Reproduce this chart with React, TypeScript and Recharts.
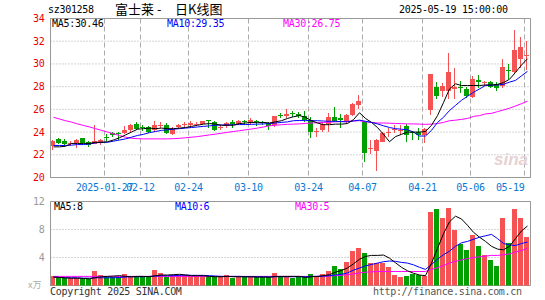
import React from "react";
import { ComposedChart, Bar, Line, XAxis, YAxis, CartesianGrid, ReferenceArea } from "recharts";

const dates = [
  "01-14", "01-15", "01-16", "01-17", "01-20", "01-21", "01-22", "01-23", "01-24", "01-27",
  "02-05", "02-06", "02-07", "02-10", "02-11", "02-12", "02-13", "02-14", "02-17", "02-18",
  "02-19", "02-20", "02-21", "02-24", "02-25", "02-26", "02-27", "02-28",
  "03-03", "03-04", "03-05", "03-06", "03-07", "03-10", "03-11", "03-12", "03-13", "03-14",
  "03-17", "03-18", "03-19", "03-20", "03-21", "03-24", "03-25", "03-26", "03-27", "03-28", "03-31",
  "04-01", "04-02", "04-03", "04-07", "04-08", "04-09", "04-10", "04-11", "04-14", "04-15",
  "04-16", "04-17", "04-18", "04-21", "04-22", "04-23", "04-24", "04-25", "04-28", "04-29", "04-30",
  "05-06", "05-07", "05-08", "05-09", "05-12", "05-13", "05-14", "05-15", "05-16", "05-19",
];

const open = [
  22.8, 23.35, 23.25, 22.95, 23.05, 23.45, 23.1, 22.95, 23.05, 23.6,
  23.9, 23.95, 23.9, 24.15, 24.7, 24.45, 24.45, 24.15, 24.6, 24.65,
  23.8, 24.45, 24.6, 24.6, 24.65, 24.7, 25.05, 24.9, 24.35, 24.5,
  24.85, 24.7, 25.0, 24.8, 25.0, 24.9, 24.8, 24.65, 25.5, 25.45,
  25.65, 25.55, 25.4, 25.1, 24.05, 24.15, 24.75, 25.3, 25.2, 24.9,
  25.5, 26.35, 24.9, 22.55, 22.3, 23.15, 24.0, 24.15, 24.1, 24.5,
  24.0, 24.05, 23.75, 25.9, 27.95, 27.6, 27.65, 27.8, 28.0, 27.8,
  27.1, 28.6, 28.3, 28.4, 28.25, 28.1, 29.5, 29.3, 30.45, 30.7,
];
const close = [
  23.25, 23.05, 22.97, 23.05, 23.3, 23.0, 22.9, 23.2, 23.3, 23.5,
  23.75, 23.9, 24.2, 24.65, 24.3, 24.35, 24.0, 24.6, 24.65, 23.95,
  24.3, 24.6, 24.7, 24.8, 24.7, 24.95, 24.95, 24.15, 24.45, 24.8,
  24.7, 25.0, 24.85, 25.1, 24.85, 24.8, 24.5, 25.4, 25.45, 25.55,
  25.55, 25.45, 25.05, 24.0, 24.1, 24.7, 25.3, 25.0, 25.1, 25.5,
  26.5, 26.7, 22.15, 22.6, 23.3, 23.9, 24.05, 24.25, 24.15, 23.75,
  23.9, 23.7, 24.25, 29.1, 27.2, 28.1, 29.25, 27.95, 27.85, 27.2,
  28.65, 28.45, 28.4, 27.95, 27.9, 29.7, 29.35, 31.2, 31.45, 30.8,
];
const high = [
  23.3, 23.5, 23.4, 23.2, 23.4, 23.5, 23.2, 24.65, 23.4, 23.8,
  24.0, 24.0, 24.5, 24.7, 24.85, 24.6, 24.5, 25.0, 24.9, 24.8,
  24.45, 24.75, 24.85, 24.95, 24.9, 25.0, 25.08, 25.0, 24.6, 24.9,
  25.05, 25.1, 25.1, 25.25, 25.05, 25.0, 24.9, 25.45, 25.7, 26.05,
  25.85, 25.75, 25.85, 25.3, 24.4, 24.8, 25.65, 26.25, 25.6, 25.55,
  26.6, 27.25, 24.95, 23.3, 23.4, 24.0, 24.4, 24.6, 24.6, 24.7,
  24.1, 24.4, 24.35, 29.15, 28.45, 28.3, 30.95, 29.65, 28.5, 28.0,
  28.9, 29.0, 28.5, 28.5, 28.4, 30.45, 30.0, 33.0, 32.35, 32.0,
];
const low = [
  22.4, 22.95, 22.8, 22.8, 22.6, 22.9, 22.7, 22.95, 22.9, 23.2,
  23.6, 23.3, 23.8, 24.0, 24.2, 24.1, 23.9, 24.0, 24.4, 23.8,
  23.7, 24.3, 24.45, 24.4, 24.5, 24.6, 24.35, 24.1, 24.2, 24.4,
  24.35, 24.6, 24.7, 24.7, 24.5, 24.6, 24.15, 24.45, 25.2, 25.2,
  25.35, 25.2, 24.9, 23.45, 23.6, 24.0, 24.0, 24.9, 24.4, 24.8,
  25.4, 26.0, 21.35, 22.1, 20.55, 23.1, 23.55, 23.9, 23.7, 23.1,
  23.3, 23.3, 23.05, 25.5, 26.9, 27.1, 26.9, 26.95, 27.4, 27.0,
  27.0, 27.9, 28.1, 27.85, 27.6, 27.9, 28.7, 29.2, 29.6, 29.5,
];

const ma5 = [
  22.7, 22.7, 22.75, 23.0, 23.0, 23.0, 23.0, 23.1, 23.1, 23.15,
  23.3, 23.5, 23.75, 24.0, 24.25, 24.3, 24.35, 24.3, 24.35, 24.3,
  24.3, 24.35, 24.4, 24.5, 24.6, 24.7, 24.75, 24.7, 24.6, 24.6,
  24.6, 24.75, 24.8, 24.85, 24.85, 24.85, 24.8, 24.9, 25.0, 25.2,
  25.35, 25.45, 25.3, 25.0, 24.8, 24.65, 24.65, 24.7, 24.7, 24.75,
  25.1, 25.7, 25.2, 24.85, 24.4, 23.8, 23.15, 23.6, 23.8, 24.0,
  24.0, 24.0, 24.05, 24.6, 25.45, 26.6, 27.8, 28.25, 28.1, 28.1,
  28.1, 28.1, 28.15, 28.15, 28.2, 28.35, 28.65, 29.25, 29.9, 30.46,
];
const ma10 = [
  22.82, 22.82, 22.82, 22.85, 22.9, 22.9, 22.95, 23.05, 23.1, 23.1,
  23.2, 23.3, 23.4, 23.55, 23.7, 23.8, 23.95, 24.05, 24.15, 24.2,
  24.25, 24.3, 24.35, 24.4, 24.45, 24.5, 24.55, 24.6, 24.62, 24.64,
  24.65, 24.66, 24.66, 24.68, 24.7, 24.72, 24.75, 24.8, 24.85, 24.9,
  25.0, 25.02, 25.03, 25.0, 25.0, 24.97, 24.95, 24.95, 24.92, 24.9,
  24.98, 25.05, 24.95, 24.85, 24.72, 24.55, 24.4, 24.3, 24.25, 24.2,
  24.0, 23.65, 23.65, 24.15, 24.85, 25.3, 25.9, 26.35, 26.8, 27.15,
  27.5, 27.8, 28.1, 28.12, 28.15, 28.2, 28.4, 28.55, 28.95, 29.35,
];
const ma30 = [
  25.3, 25.15, 25.0, 24.88, 24.72, 24.58, 24.45, 24.3, 24.15, 24.0,
  23.85, 23.7, 23.55, 23.45, 23.42, 23.4, 23.4, 23.4, 23.4, 23.4,
  23.42, 23.45, 23.5, 23.55, 23.6, 23.68, 23.75, 23.82, 23.9, 23.98,
  24.05, 24.12, 24.2, 24.27, 24.35, 24.45, 24.55, 24.6, 24.65, 24.68,
  24.7, 24.72, 24.76, 24.8, 24.82, 24.85, 24.87, 24.9, 24.92, 24.95,
  24.98, 25.0, 24.9, 24.85, 24.8, 24.8, 24.78, 24.76, 24.74, 24.72,
  24.72, 24.7, 24.68, 24.7, 24.75, 24.85, 25.0, 25.05, 25.12, 25.2,
  25.38, 25.45, 25.6, 25.65, 25.8, 25.95, 26.1, 26.3, 26.5, 26.72,
];

// volume, in units of 10k
const vol = [
  1.3, 1.0, 1.0, 1.0, 1.0, 0.9, 0.9, 2.05, 1.5, 1.15,
  1.15, 1.15, 1.65, 1.25, 1.15, 1.15, 1.15, 2.2, 1.85, 1.15,
  1.5, 1.5, 1.5, 1.3, 1.3, 1.3, 1.15, 1.15, 1.3, 1.5,
  1.0, 1.3, 1.15, 1.3, 1.15, 1.15, 1.15, 1.85, 1.15, 1.15,
  1.1, 1.15, 1.15, 1.65, 1.3, 1.65, 2.05, 2.8, 2.3, 3.4,
  4.9, 5.4, 4.7, 3.25, 3.25, 3.25, 2.7, 1.5, 1.25, 1.3,
  1.7, 1.5, 1.3, 10.55, 10.9, 9.6, 11.1, 7.9, 5.9, 5.05,
  7.2, 5.65, 4.35, 3.65, 2.8, 9.7, 6.1, 11.0, 9.7, 7.0,
];
const vma5 = [
  1.2, 1.15, 1.1, 1.05, 1.05, 1.0, 0.95, 1.15, 1.25, 1.3,
  1.35, 1.4, 1.3, 1.25, 1.3, 1.3, 1.25, 1.4, 1.5, 1.5,
  1.55, 1.6, 1.5, 1.4, 1.4, 1.4, 1.3, 1.25, 1.25, 1.3,
  1.25, 1.25, 1.25, 1.25, 1.2, 1.2, 1.2, 1.3, 1.3, 1.3,
  1.3, 1.3, 1.15, 1.25, 1.3, 1.4, 1.55, 1.9, 2.15, 2.5,
  3.1, 3.75, 4.15, 4.3, 4.3, 4.35, 3.9, 3.25, 2.6, 2.1,
  1.75, 1.5, 1.4, 3.2, 5.3, 7.4, 9.1, 9.9, 9.5, 8.6,
  7.6, 6.9, 6.3, 5.6, 5.2, 5.1, 5.6, 6.7, 7.8, 8.5,
];
const vma10 = [
  1.2, 1.15, 1.1, 1.1, 1.1, 1.05, 1.05, 1.1, 1.1, 1.1,
  1.1, 1.15, 1.2, 1.25, 1.25, 1.25, 1.3, 1.35, 1.4, 1.4,
  1.4, 1.45, 1.5, 1.45, 1.45, 1.45, 1.4, 1.35, 1.3, 1.3,
  1.3, 1.3, 1.25, 1.25, 1.25, 1.25, 1.2, 1.25, 1.25, 1.25,
  1.25, 1.25, 1.25, 1.3, 1.3, 1.35, 1.4, 1.5, 1.6, 1.8,
  2.2, 2.5, 2.8, 3.0, 3.2, 3.4, 3.5, 3.45, 3.3, 3.2,
  2.95, 2.6, 2.3, 3.0, 3.75, 4.4, 4.9, 5.6, 6.1, 6.3,
  6.6, 6.9, 7.1, 7.3, 6.7, 6.0, 5.8, 5.7, 6.0, 6.2,
];
const vma30 = [
  1.3, 1.3, 1.3, 1.3, 1.3, 1.3, 1.3, 1.3, 1.3, 1.3,
  1.3, 1.3, 1.3, 1.3, 1.3, 1.3, 1.3, 1.3, 1.3, 1.3,
  1.3, 1.3, 1.3, 1.3, 1.3, 1.3, 1.3, 1.3, 1.3, 1.3,
  1.3, 1.3, 1.3, 1.3, 1.3, 1.3, 1.3, 1.3, 1.3, 1.3,
  1.3, 1.3, 1.3, 1.3, 1.3, 1.3, 1.35, 1.4, 1.45, 1.55,
  1.65, 1.8, 1.9, 1.95, 2.0, 2.0, 2.0, 2.0, 2.0, 2.0,
  2.0, 2.0, 2.0, 2.3, 2.55, 2.85, 3.2, 3.45, 3.65, 3.85,
  4.0, 4.1, 4.2, 4.3, 4.3, 4.4, 4.5, 4.8, 5.0, 5.3,
];

const tickDates = ["01-27", "02-12", "02-24", "03-10", "03-24", "04-07", "04-21", "05-06", "05-19"];
const tickLabels = ["2025-01-27", "02-12", "02-24", "03-10", "03-24", "04-07", "04-21", "05-06", "05-19"];
const priceTicks = [20, 22, 24, 26, 28, 30, 32, 34];
const volTicks = [4, 8, 12];

const RED = "#f55353";
const GREEN = "#00a000";
const MONO = '"DejaVu Sans Mono", monospace';
const CJK = '"Noto Sans CJK SC", sans-serif';
const GRID = "#aaaaaa";
const BORDER = "#999999";

const rows = dates.map((d, i) => ({
  x: i + 0.5,
  d,
  o: open[i],
  c: close[i],
  h: high[i],
  l: low[i],
  hl: [low[i], high[i]],
  ma5: ma5[i],
  ma10: ma10[i],
  ma30: ma30[i],
  vol: vol[i],
  vma5: vma5[i],
  vma10: vma10[i],
  vma30: vma30[i],
}));

const tickIdx = tickDates.map((d) => dates.indexOf(d));

function Candle(props: any) {
  const { x, y, width, height, payload } = props;
  if (x == null || y == null) return null;
  const left = Math.floor(x + width / 2 - 3);
  const top = Math.min(y, y + height);
  const h = Math.abs(height);
  const range = payload.h - payload.l;
  const py = (v: number) => top + (range > 0 ? ((payload.h - v) / range) * h : 0);
  const up = payload.c >= payload.o;
  const col = up ? RED : GREEN;
  const bt = Math.round(py(Math.max(payload.o, payload.c)));
  const bb = Math.round(py(Math.min(payload.o, payload.c)));
  return (
    <g>
      <line x1={left + 2.5} x2={left + 2.5} y1={Math.round(top)} y2={Math.round(top + h)} stroke={col} strokeWidth={1} />
      <rect x={left} y={bt} width={5} height={Math.max(1, bb - bt)} fill={col} />
    </g>
  );
}

function VolBar(props: any) {
  const { x, y, width, height, payload } = props;
  if (x == null || y == null) return null;
  const left = Math.floor(x + width / 2 - 3);
  const top = Math.round(Math.min(y, y + height));
  const bottom = Math.round(Math.max(y, y + height));
  const col = payload.c >= payload.o ? RED : GREEN;
  return <rect x={left} y={top} width={5} height={Math.max(1, bottom - top)} fill={col} />;
}

// date labels; the last one is pulled left so it stays inside the frame
function DateTick(props: any) {
  const { x, y, payload, index } = props;
  const last = index === tickIdx.length - 1;
  const label = tickLabels[tickIdx.indexOf(payload.value)] ?? "";
  return (
    <text x={x} y={y} dy="0.71em" textAnchor={last ? "end" : "middle"} fill="#0a78d2" fontSize={10} fontFamily={MONO} letterSpacing={-0.3}>
      {label}
    </text>
  );
}

const txt = (extra: React.CSSProperties): React.CSSProperties => ({
  position: "absolute",
  fontFamily: MONO,
  fontSize: 10,
  letterSpacing: -0.3,
  lineHeight: "12px",
  whiteSpace: "pre",
  ...extra,
});

export default function App() {
  const xAxisCommon = {
    type: "number" as const,
    dataKey: "x",
    domain: [0, 80],
    ticks: tickIdx,
    interval: 0 as const,
    allowDataOverflow: true,
  };
  return (
    <div style={{ position: "absolute", left: 0, top: 0, width: 545, height: 300, background: "#fff", overflow: "hidden" }}>
      <div style={{ position: "absolute", left: 0, top: 0 }}>
        <ComposedChart width={545} height={200} data={rows} margin={{ top: 18.5, right: 14.5, bottom: 0, left: 0.5 }}>
          <CartesianGrid horizontal vertical={false} stroke={GRID} strokeDasharray="1 2" />
          <CartesianGrid horizontal={false} vertical stroke={GRID} strokeDasharray="5 3" />
          <XAxis
            {...xAxisCommon}
            height={22.5}
            tick={<DateTick />}
            tickLine={false}
            tickSize={4}
            tickMargin={2}
            axisLine={{ stroke: BORDER }}
          />
          <YAxis
            domain={[20, 34]}
            ticks={priceTicks}
            interval={0}
            width={50}
            allowDataOverflow
            tick={{ fill: "#ee0000", fontSize: 10, fontFamily: MONO, letterSpacing: -0.3 }}
            tickLine={false}
            tickSize={4}
            tickMargin={2}
            axisLine={{ stroke: BORDER }}
          />
          <ReferenceArea x1={0} x2={80} y1={20} y2={34} fill="none" stroke={BORDER} />
          <Bar dataKey="hl" shape={<Candle />} barSize={5} isAnimationActive={false} />
          <Line type="linear" dataKey="ma30" stroke="#ff00ff" strokeWidth={1} dot={false} isAnimationActive={false} />
          <Line type="linear" dataKey="ma10" stroke="#0000ff" strokeWidth={1} dot={false} isAnimationActive={false} />
          <Line type="linear" dataKey="ma5" stroke="#000000" strokeWidth={1} dot={false} isAnimationActive={false} />
        </ComposedChart>
      </div>
      <div style={{ position: "absolute", left: 0, top: 190 }}>
        <ComposedChart width={545} height={110} data={rows} margin={{ top: 11.5, right: 14.5, bottom: 14.5, left: 0.5 }}>
          <CartesianGrid horizontal vertical={false} stroke={GRID} strokeDasharray="1 2" />
          <CartesianGrid horizontal={false} vertical stroke={GRID} strokeDasharray="5 3" />
          <XAxis {...xAxisCommon} tick={false} tickLine={false} axisLine={{ stroke: BORDER }} height={0} />
          <YAxis
            domain={[0, 12]}
            ticks={volTicks}
            interval={0}
            width={50}
            allowDataOverflow
            tick={{ fill: "#999999", fontSize: 10, fontFamily: MONO, letterSpacing: -0.3 }}
            tickLine={false}
            tickSize={4}
            tickMargin={2}
            axisLine={{ stroke: BORDER }}
          />
          <ReferenceArea x1={0} x2={80} y1={0} y2={12} fill="none" stroke={BORDER} />
          <Bar dataKey="vol" shape={<VolBar />} barSize={5} isAnimationActive={false} />
          <Line type="linear" dataKey="vma30" stroke="#ff00ff" strokeWidth={1} dot={false} isAnimationActive={false} />
          <Line type="linear" dataKey="vma10" stroke="#0000ff" strokeWidth={1} dot={false} isAnimationActive={false} />
          <Line type="linear" dataKey="vma5" stroke="#000000" strokeWidth={1} dot={false} isAnimationActive={false} />
        </ComposedChart>
      </div>

      <div style={txt({ left: 48, top: 4, color: "#000" })}>sz301258</div>
      <div style={{ position: "absolute", left: 115, top: 1, fontFamily: CJK, fontSize: 13, lineHeight: "16px", color: "#000", whiteSpace: "pre" }}>富士莱</div>
      <div style={{ position: "absolute", left: 157, top: 1, fontFamily: CJK, fontSize: 13, lineHeight: "16px", color: "#000" }}>-</div>
      <div style={{ position: "absolute", left: 175, top: 1, fontFamily: CJK, fontSize: 13, lineHeight: "16px", color: "#000", whiteSpace: "pre" }}>日K线图</div>
      <div style={txt({ left: 399, top: 4, color: "#000" })}>2025-05-19 15:00:00</div>

      <div style={txt({ left: 52, top: 18, color: "#000" })}>MA5:30.46</div>
      <div style={txt({ left: 167, top: 18, color: "#0000ff" })}>MA10:29.35</div>
      <div style={txt({ left: 283, top: 18, color: "#ff00ff" })}>MA30:26.75</div>

      <div style={txt({ left: 54, top: 201, color: "#000" })}>MA5:8</div>
      <div style={txt({ left: 175, top: 201, color: "#0000ff" })}>MA10:6</div>
      <div style={txt({ left: 295, top: 201, color: "#ff00ff" })}>MA30:5</div>

      <div style={{ position: "absolute", left: 28, top: 279, fontFamily: CJK, fontSize: 9, lineHeight: "12px", color: "#aaaaaa" }}>x万</div>
      <div style={txt({ left: 50, top: 286, color: "#333" })}>Copyright 2025 SINA.COM</div>
      <div style={txt({ left: 373, top: 286, color: "#555" })}>http://finance.sina.com.cn</div>
      <div style={{ position: "absolute", left: 494, top: 150, fontFamily: "Liberation Sans, sans-serif", fontStyle: "italic", fontWeight: "bold", fontSize: 17, color: "#e7d2d2" }}>sina</div>
    </div>
  );
}
